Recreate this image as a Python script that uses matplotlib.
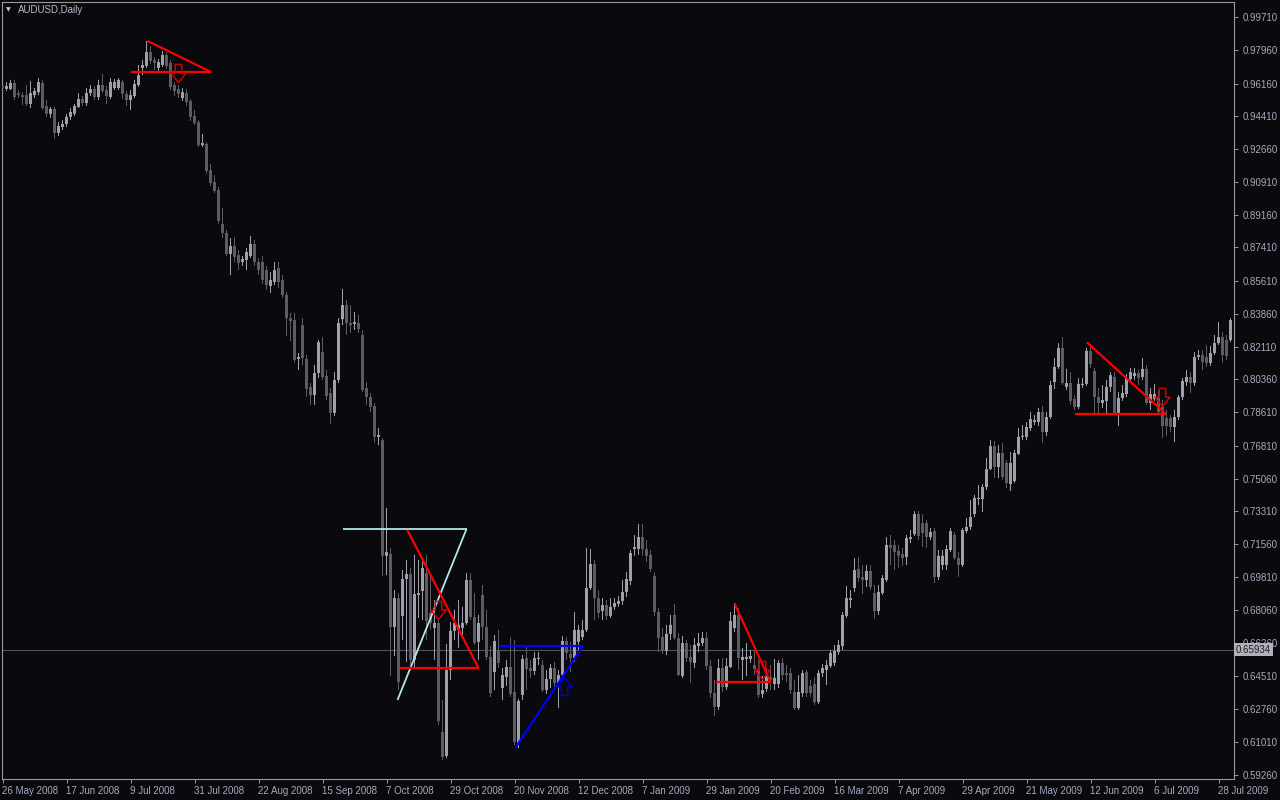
import numpy as np
import pandas as pd
import matplotlib
matplotlib.use("Agg")
import matplotlib.pyplot as plt
from matplotlib.path import Path
import matplotlib.transforms as mtransforms

# ---------------- data (AUDUSD daily OHLC) ----------------
opens = [
 .9603,.9587,.9587,.9619,.9565,.9554,.9554,.9507,.9554,.9570,
 .9619,.9496,.9454,.9480,.9352,.9384,.9400,.9438,.9454,.9491,
 .9533,.9512,.9565,.9587,.9544,.9608,.9581,.9544,.9592,.9592,
 .9624,.9560,.9528,.9549,.9608,.9699,.9710,.9784,.9742,.9699,
 .9715,.9768,.9726,.9608,.9587,.9538,.9565,.9523,.9443,.9410,
 .9287,.9293,.9154,.9090,.9047,.8866,.8818,.8706,.8748,.8700,
 .8663,.8674,.8695,.8759,.8663,.8663,.8620,.8535,.8556,.8631,
 .8567,.8487,.8363,.8353,.8145,.8326,.8145,.7996,.7952,.8070,
 .8182,.8054,.7963,.7857,.8033,.8358,.8433,.8337,.8332,.8337,
 .8273,.7990,.7942,.7894,.7729,.7712,.7094,.7104,.6714,.6868,
 .6773,.6970,.6997,.6538,.6885,.6906,.7002,.6789,.6709,.6735,
 .6153,.6025,.6484,.6693,.6698,.6709,.6735,.6965,.6767,.6634,
 .6885,.6714,.6554,.6473,.6591,.6388,.6447,.6500,.6367,.6094,
 .6351,.6548,.6495,.6479,.6543,.6511,.6377,.6436,.6495,.6415,
 .6457,.6639,.6570,.6548,.6634,.6660,.6698,.6922,.7050,.6868,
 .6799,.6831,.6773,.6821,.6837,.6853,.6901,.6959,.7130,.7130,
 .7194,.7130,.7099,.6986,.6794,.6660,.6586,.6677,.6778,.6655,
 .6452,.6628,.6554,.6522,.6612,.6628,.6655,.6505,.6361,.6287,
 .6495,.6393,.6500,.6709,.6778,.6538,.6543,.6543,.6511,.6489,
 .6356,.6383,.6447,.6409,.6409,.6522,.6468,.6468,.6367,.6281,
 .6361,.6473,.6399,.6409,.6313,.6468,.6484,.6505,.6522,.6580,
 .6612,.6773,.6858,.6922,.7024,.6981,.6965,.7013,.6895,.6799,
 .6895,.6965,.7152,.7152,.7120,.7104,.7088,.7184,.7210,.7317,
 .7269,.7269,.7194,.7226,.6981,.7045,.7045,.7125,.7205,.7082,
 .7045,.7226,.7248,.7317,.7397,.7397,.7461,.7557,.7680,.7568,
 .7643,.7590,.7477,.7493,.7638,.7729,.7729,.7776,.7808,.7808,
 .7862,.7755,.7835,.8022,.8102,.8204,.7996,.8017,.7931,.7889,
 .8006,.8012,.8188,.8081,.7942,.7910,.7921,.7996,.8049,.7857,
 .7937,.7958,.8038,.8054,.8070,.8049,.8092,.7910,.7931,.7937,
 .7889,.7830,.7830,.7782,.7835,.7942,.8022,.8049,.8017,.8156,
 .8166,.8156,.8124,.8177,.8230,.8262,.8246,.8246]
highs = [
 .9619,.9624,.9635,.9635,.9581,.9570,.9608,.9630,.9592,.9645,
 .9635,.9528,.9491,.9491,.9410,.9421,.9454,.9485,.9507,.9565,
 .9549,.9592,.9608,.9603,.9635,.9667,.9603,.9645,.9640,.9645,
 .9635,.9576,.9581,.9635,.9715,.9742,.9843,.9816,.9758,.9747,
 .9790,.9784,.9742,.9624,.9608,.9592,.9587,.9533,.9475,.9421,
 .9347,.9303,.9187,.9127,.9064,.8952,.8834,.8791,.8796,.8727,
 .8695,.8738,.8802,.8780,.8684,.8695,.8642,.8609,.8663,.8663,
 .8593,.8503,.8391,.8391,.8177,.8363,.8166,.8017,.8113,.8246,
 .8262,.8086,.7990,.8075,.8363,.8519,.8460,.8433,.8396,.8380,
 .8300,.8022,.7963,.7910,.7776,.7723,.7349,.7136,.6911,.6895,
 .7018,.7072,.7029,.7099,.7072,.7072,.7099,.6991,.6858,.6751,
 .6324,.6623,.6740,.6805,.6858,.6821,.7002,.7002,.6895,.6778,
 .6938,.6805,.6612,.6671,.6698,.6495,.6538,.6660,.6644,.6329,
 .6564,.6618,.6538,.6580,.6580,.6538,.6484,.6516,.6527,.6484,
 .6666,.6660,.6634,.6794,.6725,.6751,.7136,.7130,.7072,.6911,
 .6868,.6858,.6868,.6868,.6879,.6965,.7007,.7125,.7205,.7264,
 .7264,.7178,.7125,.7007,.6815,.6709,.6725,.6778,.6837,.6682,
 .6666,.6644,.6618,.6655,.6682,.6687,.6687,.6538,.6431,.6543,
 .6548,.6548,.6794,.6842,.6815,.6602,.6628,.6591,.6591,.6538,
 .6452,.6495,.6511,.6543,.6538,.6548,.6511,.6495,.6431,.6457,
 .6484,.6484,.6431,.6447,.6484,.6516,.6538,.6591,.6618,.6644,
 .6794,.6933,.6911,.7082,.7088,.7045,.7045,.7045,.6938,.6938,
 .6991,.7194,.7205,.7178,.7152,.7136,.7205,.7232,.7333,.7333,
 .7317,.7285,.7242,.7242,.7125,.7125,.7152,.7242,.7221,.7114,
 .7242,.7296,.7392,.7419,.7472,.7477,.7616,.7712,.7707,.7685,
 .7696,.7606,.7648,.7659,.7776,.7792,.7808,.7862,.7846,.7884,
 .7894,.7862,.8028,.8150,.8230,.8262,.8092,.8075,.7952,.8043,
 .8043,.8204,.8220,.8097,.7990,.8006,.8033,.8075,.8075,.7968,
 .8006,.8065,.8097,.8097,.8086,.8150,.8113,.7990,.8012,.7979,
 .7926,.7873,.7846,.7873,.7952,.8043,.8086,.8075,.8182,.8193,
 .8193,.8220,.8214,.8273,.8342,.8289,.8273,.8363]
lows = [
 .9570,.9576,.9581,.9528,.9538,.9501,.9496,.9485,.9538,.9554,
 .9475,.9438,.9432,.9320,.9336,.9368,.9384,.9421,.9443,.9485,
 .9496,.9496,.9549,.9528,.9528,.9565,.9507,.9533,.9581,.9581,
 .9533,.9496,.9475,.9538,.9597,.9661,.9699,.9721,.9688,.9683,
 .9704,.9694,.9581,.9549,.9538,.9523,.9496,.9416,.9394,.9277,
 .9277,.9133,.9069,.9031,.8866,.8791,.8695,.8593,.8663,.8620,
 .8642,.8620,.8684,.8642,.8593,.8546,.8513,.8497,.8540,.8524,
 .8471,.8268,.8241,.8124,.8086,.8113,.7942,.7900,.7900,.8043,
 .8033,.7926,.7798,.7841,.8017,.8326,.8273,.8284,.8300,.8284,
 .7968,.7900,.7862,.7696,.7685,.6986,.6991,.6452,.6559,.6377,
 .6644,.6527,.6511,.6495,.6762,.6751,.6644,.6698,.6538,.6190,
 .6004,.6014,.6431,.6644,.6602,.6660,.6725,.6751,.6618,.6538,
 .6644,.6538,.6340,.6377,.6495,.6324,.6399,.6340,.6083,.6067,
 .6324,.6377,.6442,.6457,.6511,.6367,.6356,.6388,.6393,.6281,
 .6442,.6538,.6473,.6527,.6591,.6644,.6687,.6911,.6751,.6762,
 .6751,.6751,.6762,.6805,.6821,.6831,.6874,.6938,.7094,.7099,
 .7094,.7061,.7007,.6773,.6580,.6570,.6564,.6644,.6644,.6452,
 .6442,.6527,.6415,.6495,.6580,.6612,.6484,.6335,.6239,.6271,
 .6367,.6377,.6495,.6687,.6484,.6431,.6452,.6522,.6457,.6335,
 .6335,.6367,.6377,.6377,.6388,.6431,.6420,.6356,.6271,.6271,
 .6340,.6340,.6340,.6297,.6303,.6447,.6404,.6495,.6505,.6564,
 .6591,.6762,.6815,.6901,.6954,.6890,.6927,.6911,.6757,.6778,
 .6885,.6954,.7045,.7018,.7029,.7040,.7045,.7162,.7200,.7178,
 .7141,.7136,.7178,.6949,.6965,.7018,.7018,.7114,.7072,.6981,
 .7034,.7216,.7232,.7301,.7365,.7328,.7445,.7552,.7509,.7509,
 .7499,.7456,.7440,.7483,.7632,.7712,.7712,.7760,.7792,.7787,
 .7696,.7734,.7824,.7985,.8092,.8006,.7979,.7900,.7873,.7878,
 .7990,.8001,.8097,.7846,.7851,.7884,.7846,.7968,.7851,.7787,
 .7921,.7942,.8022,.8033,.8006,.8033,.7900,.7873,.7921,.7851,
 .7723,.7734,.7755,.7701,.7819,.7926,.8001,.7963,.8001,.8140,
 .8086,.8102,.8108,.8166,.8220,.8124,.8140,.8235]
closes = [
 .9592,.9603,.9619,.9544,.9554,.9544,.9507,.9565,.9576,.9624,
 .9485,.9454,.9480,.9352,.9389,.9400,.9438,.9464,.9496,.9533,
 .9512,.9565,.9587,.9544,.9608,.9576,.9549,.9624,.9624,.9635,
 .9560,.9528,.9554,.9614,.9661,.9715,.9784,.9737,.9726,.9731,
 .9768,.9710,.9597,.9576,.9560,.9570,.9517,.9438,.9405,.9287,
 .9298,.9149,.9085,.9042,.8882,.8818,.8706,.8748,.8690,.8658,
 .8679,.8716,.8759,.8663,.8620,.8567,.8540,.8567,.8620,.8556,
 .8487,.8363,.8348,.8140,.8156,.8150,.7985,.7952,.8070,.8235,
 .8049,.7947,.7857,.8033,.8337,.8433,.8337,.8326,.8342,.8305,
 .7979,.7942,.7889,.7729,.7739,.7094,.7114,.6714,.6868,.6420,
 .6970,.6997,.6538,.6890,.6895,.7029,.6746,.6735,.6735,.6212,
 .6020,.6484,.6693,.6735,.6725,.6735,.6965,.6767,.6628,.6735,
 .6714,.6554,.6361,.6639,.6522,.6457,.6500,.6356,.6099,.6319,
 .6543,.6489,.6479,.6548,.6548,.6377,.6436,.6495,.6415,.6457,
 .6639,.6575,.6548,.6698,.6698,.6698,.6922,.7050,.6868,.6789,
 .6831,.6773,.6821,.6842,.6853,.6901,.6970,.7109,.7141,.7194,
 .7130,.7094,.7024,.6794,.6655,.6591,.6677,.6725,.6655,.6457,
 .6628,.6548,.6527,.6618,.6628,.6655,.6505,.6361,.6287,.6495,
 .6393,.6505,.6746,.6778,.6548,.6554,.6554,.6559,.6489,.6351,
 .6377,.6447,.6431,.6442,.6522,.6457,.6457,.6377,.6281,.6367,
 .6468,.6361,.6361,.6313,.6468,.6495,.6511,.6575,.6586,.6618,
 .6778,.6868,.6868,.7018,.6975,.6965,.7013,.6927,.6799,.6901,
 .6975,.7152,.7136,.7114,.7094,.7082,.7189,.7194,.7317,.7200,
 .7216,.7194,.7221,.6981,.7094,.7094,.7130,.7226,.7082,.7045,
 .7232,.7248,.7301,.7403,.7403,.7461,.7557,.7680,.7568,.7643,
 .7515,.7483,.7590,.7643,.7729,.7734,.7782,.7824,.7819,.7862,
 .7755,.7835,.8006,.8102,.8204,.8017,.8017,.7921,.7889,.8012,
 .8012,.8188,.8118,.7942,.7910,.7926,.7996,.8059,.7857,.7937,
 .7963,.8043,.8075,.8070,.8043,.8092,.7910,.7958,.7958,.7862,
 .7787,.7787,.7782,.7835,.7942,.8028,.8049,.8017,.8156,.8166,
 .8129,.8124,.8177,.8230,.8262,.8166,.8161,.8353]

holidays = ["2008-12-25", "2009-01-01"]
first_day, last_day = "2008-05-26", "2009-07-31"

price_ticks = [0.99710, 0.97960, 0.96160, 0.94410, 0.92660, 0.90910, 0.89160, 0.87410,
               0.85610, 0.83860, 0.82110, 0.80360, 0.78610, 0.76810, 0.75060, 0.73310,
               0.71560, 0.69810, 0.68060, 0.66260, 0.64510, 0.62760, 0.61010, 0.59260]
current_price = 0.65934
symbol_title = "AUDUSD,Daily"

# drawn pattern objects: (bar index, price)
red_lines = [
    ([32.2, 52.0], [0.9679, 0.9679]), ([36.2, 52.0], [0.9844, 0.9679]),
    ([99.25, 119.0], [0.6495, 0.6495]), ([101.2, 119.0], [0.7232, 0.6495]),
    ([178.25, 192.0], [0.6420, 0.6420]), ([183.0, 192.0], [0.6840, 0.6420]),
    ([268.2, 290.9], [0.7850, 0.7850]), ([271.1, 290.9], [0.8234, 0.7850]),
]
cyan_lines = [([85.0, 116.0], [0.7237, 0.7237]), ([116.0, 98.75], [0.7237, 0.6324])]
blue_lines = [([124.1, 145.1], [0.6612, 0.6612]), ([145.1, 128.2], [0.6612, 0.6068])]
down_arrows_x = [43.75, 108.75, 189.75, 289.75]
down_arrows_y = [0.9672, 0.6805, 0.6484, 0.7943]
up_arrows_x = [140.25]
up_arrows_y = [0.6399]

# ---------------- styling ----------------
BG = "#09090e"
BULL = "#a0a0ac"
BEAR = "#5c5c64"
AXC = "#9a9a9a"
TXT = "#a4acbe"

fig = plt.figure(figsize=(12.8, 8), dpi=100, facecolor=BG)
ax = fig.add_axes([2/1280, 21/800, 1232/1280, 777/800], facecolor=BG)

o = np.array(opens); h = np.array(highs); l = np.array(lows); c = np.array(closes)
idx = np.arange(len(o))
cols = np.where(c >= o, BULL, BEAR)

wicks = ax.vlines(idx, l, h, colors=cols, linewidth=0.72, zorder=2)
wicks.set_snap(False)
body_bottom = np.minimum(o, c)
body_h = np.maximum(np.abs(c - o), 0.0006)
bars = ax.bar(idx, body_h, bottom=body_bottom, width=0.75, color=cols, linewidth=0, zorder=3)
for b in bars:
    b.set_snap(False)

ax.axhline(current_price, color="#50505c", lw=0.8, zorder=1)

for xs, ys in cyan_lines:
    ax.plot(xs, ys, color="#b4e6ea", lw=1.3, zorder=5, solid_capstyle="butt")
for xs, ys in red_lines:
    ax.plot(xs, ys, color="#ff0000", lw=1.6, zorder=6, solid_capstyle="butt")
for xs, ys in blue_lines:
    ax.plot(xs, ys, color="#0000ff", lw=1.6, zorder=6, solid_capstyle="butt")

down_path = Path([(-0.18, 0.5), (0.18, 0.5), (0.18, 0.02), (0.42, 0.02), (0.0, -0.5),
                  (-0.42, 0.02), (-0.18, 0.02), (-0.18, 0.5)], closed=True)
up_path = Path([(x, -y) for x, y in down_path.vertices], closed=True)
ax.plot(down_arrows_x, down_arrows_y, ls="none", marker=down_path, markersize=13,
        mfc="none", mec="#d00000", mew=1.1, zorder=7)
ax.plot(up_arrows_x, up_arrows_y, ls="none", marker=up_path, markersize=13,
        mfc="none", mec="#0000c8", mew=1.1, zorder=7)

# axes limits (bar spacing 4 px, bodies aligned to whole pixels)
ax.set_xlim(-0.125, len(o) - 0.125)
ax.set_ylim(0.59021, 1.00513)

# y axis on the right
ax.yaxis.tick_right()
ax.set_yticks(price_ticks)
ax.set_yticklabels([f"{v:.5f}" for v in price_ticks])
ax.tick_params(axis="y", direction="out", length=3, width=0.7, color=AXC,
               labelcolor=TXT, labelsize=7, pad=3)
for lab in ax.get_yticklabels():
    lab.set_fontfamily(["Liberation Sans", "DejaVu Sans"])

# x axis dates
dates = pd.bdate_range(first_day, last_day)
dates = dates[~dates.isin(pd.to_datetime(holidays))]
tick_idx = list(range(0, len(o), 16))
ax.set_xticks(tick_idx)
ax.set_xticklabels([f"{dates[i].day} {dates[i].strftime('%b %Y')}" for i in tick_idx],
                   ha="left", fontfamily=["Liberation Sans", "DejaVu Sans"])
ax.tick_params(axis="x", direction="out", length=3, width=0.7, color=AXC,
               labelcolor=TXT, labelsize=7, pad=2)

for s in ax.spines.values():
    s.set_color(AXC)
    s.set_linewidth(0.8)

# current price label (drawn over the price scale, as in the terminal)
trans = mtransforms.blended_transform_factory(ax.transAxes, ax.transData)
ax.text(1.0015, current_price, f"{current_price:.5f}", transform=trans, ha="left",
        va="center", fontsize=7, color="#1c1c30", fontfamily=["Liberation Sans", "DejaVu Sans"],
        bbox=dict(boxstyle="square,pad=0.2", fc="#b2b2b6", ec="none"),
        clip_on=False, zorder=20)

# title
fig.text(8/1280, 1 - 10/800, "\u25BC", color="#c8c8c8", fontsize=4.5, ha="center",
         va="center", fontfamily="DejaVu Sans")
fig.text(18/1280, 1 - 10/800, symbol_title, color="#b4bccc", fontsize=7, ha="left",
         va="center", fontfamily=["Liberation Sans", "DejaVu Sans"])

fig.savefig("out.png", dpi=100, facecolor=BG)
